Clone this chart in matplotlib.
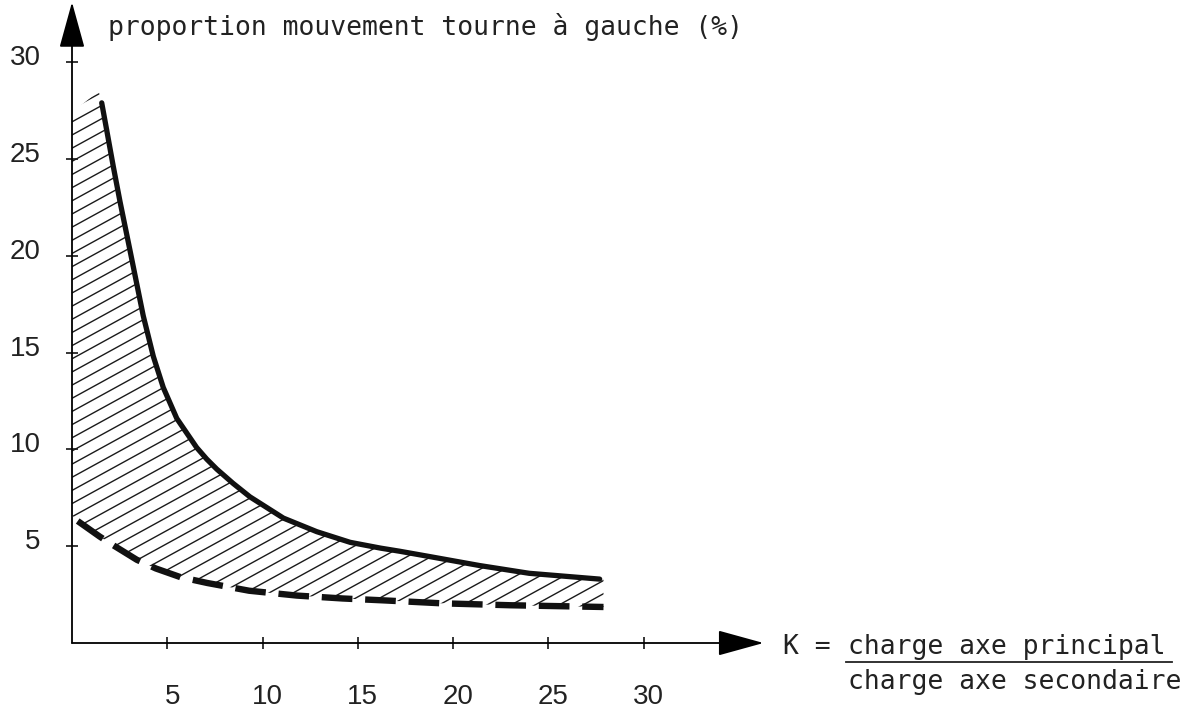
import matplotlib.pyplot as plt
import numpy as np
from matplotlib.lines import Line2D
from matplotlib.patches import Polygon
from matplotlib.transforms import ScaledTranslation

# upper curve (solid)
upper_k = [1.56, 1.82, 2.17, 2.52, 3.04, 3.41, 3.74, 4.27, 4.79, 5.5, 6.54, 7.07, 7.6, 8.45,
           9.34, 11.1, 12.85, 14.6, 16.2, 17.2, 18.8, 21.4, 24.0, 27.7]
upper_v = [27.9, 26.5, 24.6, 22.8, 20.3, 18.5, 16.9, 14.8, 13.2, 11.6, 10.1, 9.5, 8.98, 8.25,
           7.55, 6.45, 5.75, 5.2, 4.9, 4.74, 4.46, 4.0, 3.6, 3.3]

# lower curve (dashed)
lower_k = [0.3, 1.45, 2.0, 3.4, 4.4, 5.7, 7.1, 9.3, 11.8, 14.2, 16.4, 19.4, 23.0, 27.9]
lower_v = [6.3, 5.5, 5.15, 4.3, 3.85, 3.4, 3.1, 2.7, 2.45, 2.3, 2.2, 2.05, 1.95, 1.86]

# extra corners of the hatched zone along the vertical axis
hatch_top_k = [0.0, 1.4]
hatch_top_v = [27.4, 28.5]
hatch_bottom_k = [0.0]
hatch_bottom_v = [6.6]

x_ticks = [5, 10, 15, 20, 25, 30]
y_ticks = [5, 10, 15, 20, 25, 30]

W, H = 1199, 710
x0, y0 = 72, 643          # pixel position of the origin
sx, sy = 19.05, 19.36     # pixels per unit
xmax, ymax = 36.3, 33.1

fig = plt.figure(figsize=(W / 100, H / 100), dpi=100)
ax = fig.add_axes([x0 / W, (H - y0) / H, xmax * sx / W, ymax * sy / H])
ax.set_xlim(0, xmax)
ax.set_ylim(0, ymax)
for s in ax.spines.values():
    s.set_visible(False)

# hatched zone between the two curves
poly_k = hatch_top_k + upper_k + [upper_k[-1] + 0.2] + lower_k[::-1] + hatch_bottom_k
poly_v = hatch_top_v + upper_v + [upper_v[-1]] + lower_v[::-1] + hatch_bottom_v
zone = Polygon(np.column_stack([poly_k, poly_v]), closed=True,
               facecolor="none", edgecolor="none")
ax.add_patch(zone)
slope = 0.54
for c in np.arange(-20, 32, 0.68):
    ln, = ax.plot([0, 30], [c, c + slope * 30], color="#1a1a1a", lw=1.0)
    ln.set_clip_path(zone)

ax.plot(upper_k, upper_v, color="#111111", lw=3.8, solid_capstyle="round",
        solid_joinstyle="round")
ax.plot(lower_k, lower_v, color="#111111", lw=4.6, dashes=(4.8, 2.0),
        dash_capstyle="butt", dash_joinstyle="round")

# axes with arrows
arrow = dict(arrowstyle="-|>,head_length=2.9,head_width=0.8", mutation_scale=10,
             lw=1.3, color="black", shrinkA=0, shrinkB=0)
ax.annotate("", xy=(xmax, 0), xytext=(0, 0), arrowprops=arrow, annotation_clip=False)
ax.annotate("", xy=(0, ymax), xytext=(0, 0), arrowprops=arrow, annotation_clip=False)

ax.set_xticks(x_ticks)
ax.set_yticks(y_ticks)
ax.tick_params(direction="inout", length=9, width=1.1, color="black")
ax.tick_params(axis="x", pad=25)
ax.tick_params(axis="y", pad=18)
for lab in ax.get_xticklabels() + ax.get_yticklabels():
    lab.set_fontfamily("Liberation Sans")
    lab.set_fontsize(20)
    lab.set_color("#222222")
xshift = ScaledTranslation(5 / 100, 0, fig.dpi_scale_trans)
for lab in ax.get_xticklabels():
    lab.set_transform(lab.get_transform() + xshift)
yshift = ScaledTranslation(0, 7 / 100, fig.dpi_scale_trans)
for lab in ax.get_yticklabels():
    lab.set_transform(lab.get_transform() + yshift)

mono = dict(family="DejaVu Sans Mono", fontsize=19, color="#222222", va="center", ha="left")
fig.text(108 / W, 1 - 27 / H, "proportion mouvement tourne à gauche (%)", **mono)
fig.text(783 / W, 1 - 647 / H, "K =", **mono)
fig.text(848 / W, 1 - 647 / H, "charge axe principal", **mono)
fig.text(848 / W, 1 - 682 / H, "charge axe secondaire", **mono)
fig.add_artist(Line2D([846 / W, 1172 / W], [1 - 662 / H, 1 - 662 / H],
                      color="#222222", lw=1.3, transform=fig.transFigure))

fig.savefig("out.png", dpi=100)
